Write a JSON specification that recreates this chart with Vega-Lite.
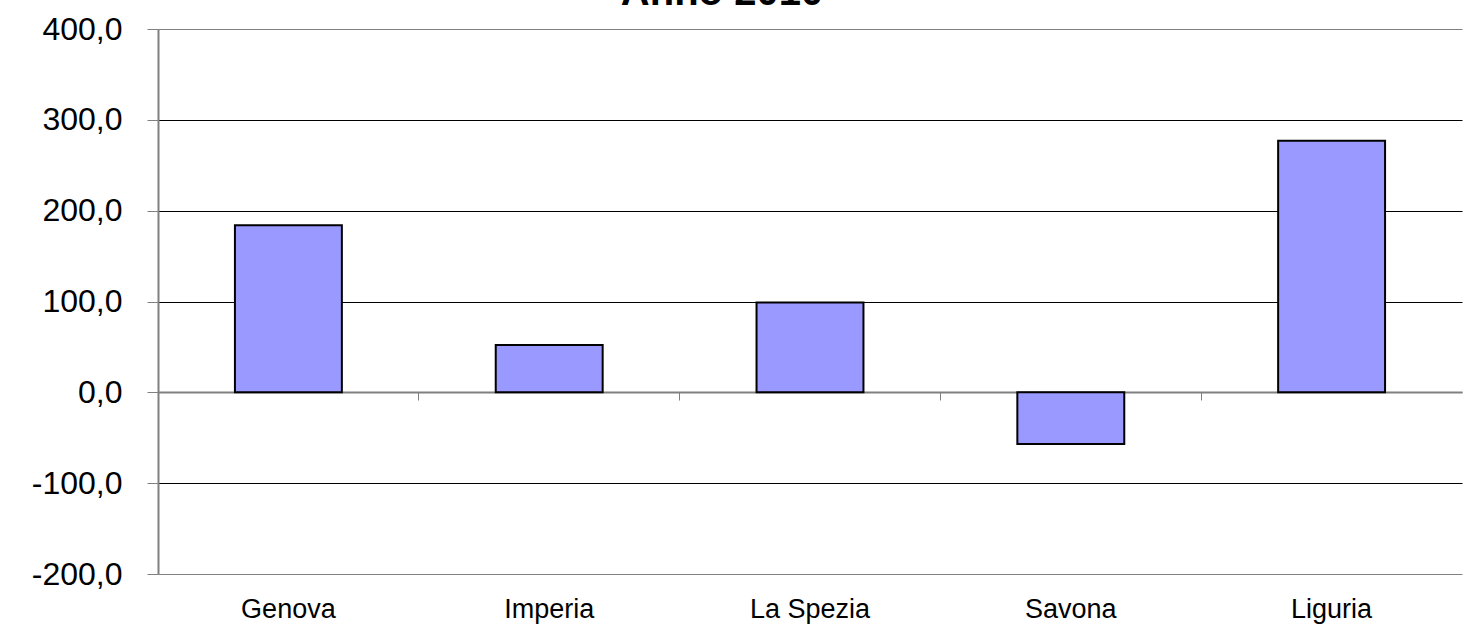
{
  "$schema": "https://vega.github.io/schema/vega-lite/v6.json",
  "autosize": "none",
  "width": 1304,
  "height": 545,
  "padding": {"left": 158, "top": 29, "right": 8, "bottom": 56},
  "background": "white",
  "title": {
    "text": "Anno 2010",
    "font": "Liberation Sans",
    "fontSize": 40,
    "fontWeight": "bold",
    "color": "black",
    "anchor": "middle",
    "baseline": "alphabetic",
    "offset": 0,
    "dy": 32,
    "dx": -88
  },
  "data": {
    "values": [
      {"provincia": "Genova", "valore": 184},
      {"provincia": "Imperia", "valore": 52},
      {"provincia": "La Spezia", "valore": 99},
      {"provincia": "Savona", "valore": -57},
      {"provincia": "Liguria", "valore": 277}
    ]
  },
  "config": {
    "view": {"stroke": null},
    "axis": {"labelFont": "Liberation Sans", "labelColor": "black"}
  },
  "layer": [
    {
      "mark": {"type": "bar", "color": "#9999FF", "stroke": "black", "strokeWidth": 2, "width": {"band": 0.41}},
      "encoding": {
        "x": {
          "field": "provincia",
          "type": "nominal",
          "sort": null,
          "scale": {"paddingInner": 0, "paddingOuter": 0},
          "axis": {
            "title": null,
            "orient": "bottom",
            "domain": false,
            "ticks": false,
            "grid": false,
            "labelAngle": 0,
            "labelFontSize": 27,
            "labelPadding": 22
          }
        },
        "y": {
          "field": "valore",
          "type": "quantitative",
          "scale": {"domain": [-200, 400], "nice": false},
          "axis": {
            "title": null,
            "values": [-200, -100, 0, 100, 200, 300, 400],
            "labelExpr": "(datum.value < 0 ? '-' : '') + replace(format(abs(datum.value), '.1f'), '.', ',')",
            "labelFontSize": 32,
            "labelPadding": 25,
            "tickSize": 11,
            "tickColor": "#808080",
            "domainColor": "#808080",
            "domainWidth": 2,
            "grid": true,
            "gridColor": {"condition": {"test": "datum.value == 0 || datum.value == 400 || datum.value == -200", "value": "#808080"}, "value": "black"},
            "gridWidth": 1,
            "gridOpacity": 1
          }
        }
      }
    },
    {
      "mark": {"type": "bar", "opacity": 0, "width": {"band": 0.41}},
      "encoding": {
        "x": {
          "field": "provincia",
          "type": "nominal",
          "sort": null,
          "axis": {
            "title": null,
            "orient": "bottom",
            "offset": -182,
            "labels": false,
            "domain": true,
            "domainColor": "#808080",
            "domainWidth": 2,
            "ticks": true,
            "tickColor": "#808080",
            "tickSize": 8,
            "bandPosition": 0,
            "grid": false
          }
        },
        "y": {"field": "valore", "type": "quantitative"}
      }
    }
  ],
  "resolve": {"axis": {"x": "independent"}}
}
